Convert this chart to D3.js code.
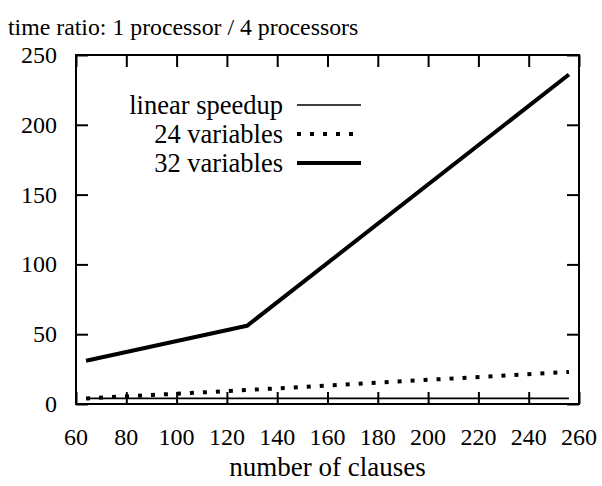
<!DOCTYPE html>
<html>
<head>
<meta charset="utf-8">
<script src="https://cdn.jsdelivr.net/npm/d3@7"></script>
<style>
  body { margin: 0; background: #fff; }
</style>
</head>
<body>
<div id="chart"></div>
<script>
// data
var clauses = [64, 128, 256];
var linearSpeedup = [4, 4, 4];
var vars24 = [4, 10, 23];
var vars32 = [31, 56, 236];
var xTicks = [60, 80, 100, 120, 140, 160, 180, 200, 220, 240, 260];
var yTicks = [0, 50, 100, 150, 200, 250];
var seriesNames = ["linear speedup", "24 variables", "32 variables"];

var serif = "Liberation Serif";

var width = 602, height = 486;
var margin = {top: 55, right: 23, bottom: 82, left: 76};

var svg = d3.select("#chart")
  .append("svg")
    .attr("width", width)
    .attr("height", height);

var x = d3.scaleLinear().domain([60, 260]).range([margin.left, width - margin.right]);
var y = d3.scaleLinear().domain([0, 250]).range([height - margin.bottom, margin.top]);

var tickLen = 12;

function styleAxis(g) {
  g.select(".domain").remove();
  g.selectAll("line").attr("stroke-width", 2);
}

// tick marks on all four sides, pointing inward
svg.append("g")
  .attr("transform", "translate(0," + y(0) + ")")
  .call(d3.axisBottom(x).tickValues(xTicks).tickSizeInner(-tickLen).tickSizeOuter(0).tickFormat(""))
  .call(styleAxis);
svg.append("g")
  .attr("transform", "translate(0," + y(250) + ")")
  .call(d3.axisTop(x).tickValues(xTicks).tickSizeInner(-tickLen).tickSizeOuter(0).tickFormat(""))
  .call(styleAxis);
svg.append("g")
  .attr("transform", "translate(" + x(60) + ",0)")
  .call(d3.axisLeft(y).tickValues(yTicks).tickSizeInner(-tickLen).tickSizeOuter(0).tickFormat(""))
  .call(styleAxis);
svg.append("g")
  .attr("transform", "translate(" + x(260) + ",0)")
  .call(d3.axisRight(y).tickValues(yTicks).tickSizeInner(-tickLen).tickSizeOuter(0).tickFormat(""))
  .call(styleAxis);

// tick labels
svg.append("g").selectAll("text")
  .data(xTicks)
  .enter().append("text")
    .attr("x", function(d) { return x(d); })
    .attr("y", y(0) + 41)
    .attr("text-anchor", "middle")
    .style("font-family", serif)
    .style("font-size", "24px")
    .text(function(d) { return d; });

svg.append("g").selectAll("text")
  .data(yTicks)
  .enter().append("text")
    .attr("x", x(60) - 19)
    .attr("y", function(d) { return y(d); })
    .attr("dy", "0.33em")
    .attr("text-anchor", "end")
    .style("font-family", serif)
    .style("font-size", "24px")
    .text(function(d) { return d; });

// frame
svg.append("rect")
  .attr("x", x(60)).attr("y", y(250))
  .attr("width", x(260) - x(60)).attr("height", y(0) - y(250))
  .attr("fill", "none").attr("stroke", "#000").attr("stroke-width", 2);

var styles = [
  {data: linearSpeedup, width: 1.6, dash: null},
  {data: vars24, width: 4, dash: "4,9"},
  {data: vars32, width: 4, dash: null}
];

var line = d3.line()
  .x(function(d) { return x(d[0]); })
  .y(function(d) { return y(d[1]); });

styles.forEach(function(s) {
  var pts = clauses.map(function(c, i) { return [c, s.data[i]]; });
  svg.append("path")
    .datum(pts)
    .attr("d", line)
    .attr("fill", "none")
    .attr("stroke", "#000")
    .attr("stroke-width", s.width)
    .attr("stroke-dasharray", s.dash)
    .attr("stroke-linejoin", "round");
});

// legend
var legendY = [105, 134, 163];
seriesNames.forEach(function(name, i) {
  svg.append("text")
    .attr("x", 283)
    .attr("y", legendY[i])
    .attr("dy", "0.35em")
    .attr("text-anchor", "end")
    .style("font-family", serif)
    .style("font-size", "26.5px")
    .text(name);
  svg.append("line")
    .attr("x1", 297).attr("x2", 361)
    .attr("y1", legendY[i]).attr("y2", legendY[i])
    .attr("stroke", "#000")
    .attr("stroke-width", styles[i].width)
    .attr("stroke-dasharray", styles[i].dash);
});

// title and axis label
svg.append("text")
  .attr("x", 8)
  .attr("y", 35)
  .style("font-family", serif)
  .style("font-size", "23.8px")
  .text("time ratio: 1 processor / 4 processors");

svg.append("text")
  .attr("x", (x(60) + x(260)) / 2)
  .attr("y", 476)
  .attr("text-anchor", "middle")
  .style("font-family", serif)
  .style("font-size", "27px")
  .text("number of clauses");
</script>
</body>
</html>
